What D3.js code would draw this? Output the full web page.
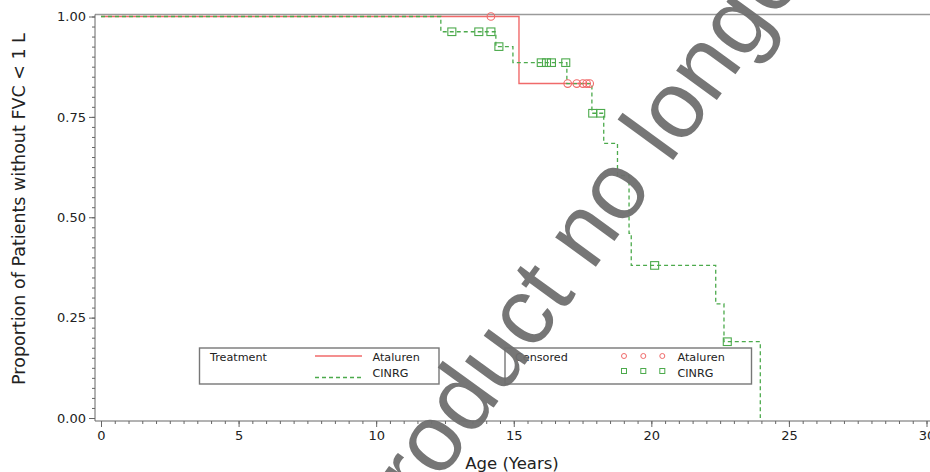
<!DOCTYPE html>
<html>
<head>
<meta charset="utf-8">
<script src="https://cdn.jsdelivr.net/npm/d3@7"></script>
<style>
  html, body { margin: 0; padding: 0; background: #fff; }
  svg { display: block; font-family: "DejaVu Sans", Verdana, sans-serif; }
</style>
</head>
<body>
<svg id="chart" width="930" height="472"></svg>
<script>
// Kaplan-Meier estimates: time to FVC < 1 L by age
const ataTimes = [0, 15.19, 17.76];
const ataSurv = [1, 0.833, 0.833];
const ataCensorTimes = [14.17, 16.96, 17.29, 17.51, 17.65, 17.76];
const ataCensorSurv = [1, 0.833, 0.833, 0.833, 0.833, 0.833];

const cinrgTimes = [0, 12.35, 14.35, 14.97, 16.93, 17.84, 18.27, 18.77, 19.19, 19.27, 22.34, 22.64, 23.96];
const cinrgSurv = [1, 0.962, 0.925, 0.885, 0.833, 0.759, 0.684, 0.604, 0.46, 0.38, 0.284, 0.19, 0];
const cinrgCensorTimes = [12.75, 13.73, 14.17, 14.46, 16.0, 16.19, 16.37, 16.89, 17.87, 18.16, 20.12, 22.76];
const cinrgCensorSurv = [0.962, 0.962, 0.962, 0.925, 0.885, 0.885, 0.885, 0.885, 0.759, 0.759, 0.38, 0.19];

const xTicks = [0, 5, 10, 15, 20, 25, 30];
const yTicks = [0, 0.25, 0.5, 0.75, 1];
const seriesNames = ["Ataluren", "CINRG"];

const RED = "#f06a6a";
const GREEN = "#4caa4c";
const DASH = "4,3";
const FONT = "'DejaVu Sans', Verdana, sans-serif";

const svg = d3.select("#chart");
const x = d3.scaleLinear().domain([0, 30]).range([101, 926.5]);
const y = d3.scaleLinear().domain([0, 1]).range([418, 16.5]);
const axisX = 95;     // y axis line position
const axisY = 421;    // x axis line position

// frame top
svg.append("line")
  .attr("x1", axisX).attr("x2", 930).attr("y1", 14.5).attr("y2", 14.5)
  .attr("stroke", "#9a9a9a").attr("stroke-width", 1.6);

// y axis: major + minor ticks
const yMinor = d3.range(0, 1.0001, 0.025);
svg.append("g").attr("transform", `translate(${axisX},0)`)
  .call(d3.axisLeft(y).tickValues(yMinor).tickSize(3).tickFormat(""))
  .call(g => g.select(".domain").remove())
  .selectAll("line").attr("stroke", "#666");
const yAxisG = svg.append("g").attr("transform", `translate(${axisX},0)`)
  .call(d3.axisLeft(y).tickValues(yTicks).tickSize(6).tickSizeOuter(0).tickPadding(3).tickFormat(d3.format(".2f")));
yAxisG.select(".domain").attr("stroke", "#666").attr("d", `M0,14.5V${axisY}`);
yAxisG.selectAll("line").attr("stroke", "#666");
yAxisG.selectAll("text").attr("font-size", 13).attr("fill", "#222").attr("font-family", FONT);

// x axis: major + minor ticks
const xMinor = d3.range(0, 30.001, 0.5);
svg.append("g").attr("transform", `translate(0,${axisY})`)
  .call(d3.axisBottom(x).tickValues(xMinor).tickSize(3).tickFormat(""))
  .call(g => g.select(".domain").remove())
  .selectAll("line").attr("stroke", "#666");
const xAxisG = svg.append("g").attr("transform", `translate(0,${axisY})`)
  .call(d3.axisBottom(x).tickValues(xTicks).tickSize(6).tickSizeOuter(0).tickPadding(4).tickFormat(d3.format("d")));
xAxisG.select(".domain").attr("stroke", "#666").attr("d", `M${axisX},0H930`);
xAxisG.selectAll("line").attr("stroke", "#666");
xAxisG.selectAll("text").attr("font-size", 13).attr("fill", "#222").attr("font-family", FONT);

// axis titles
svg.append("text")
  .attr("x", 512).attr("y", 469).attr("text-anchor", "middle")
  .attr("font-size", 16.5).attr("fill", "#222").text("Age (Years)");
svg.append("text")
  .attr("transform", "translate(25,209) rotate(-90)").attr("text-anchor", "middle")
  .attr("font-size", 17.5).attr("fill", "#222").text("Proportion of Patients without FVC < 1 L");

// step curves
const step = d3.line().x(d => x(d[0])).y(d => y(d[1])).curve(d3.curveStepAfter);
svg.append("path")
  .datum(ataTimes.map((t, i) => [t, ataSurv[i]]))
  .attr("d", step).attr("fill", "none").attr("stroke", RED).attr("stroke-width", 1.4);
svg.append("path")
  .datum(cinrgTimes.map((t, i) => [t, cinrgSurv[i]]))
  .attr("d", step).attr("fill", "none").attr("stroke", GREEN).attr("stroke-width", 1.3)
  .attr("stroke-dasharray", DASH);

// censor markers
svg.append("g").selectAll("circle")
  .data(ataCensorTimes.map((t, i) => [t, ataCensorSurv[i]]))
  .join("circle")
  .attr("cx", d => x(d[0])).attr("cy", d => y(d[1])).attr("r", 3.8)
  .attr("fill", "none").attr("stroke", RED).attr("stroke-width", 1.1);
svg.append("g").selectAll("rect")
  .data(cinrgCensorTimes.map((t, i) => [t, cinrgCensorSurv[i]]))
  .join("rect")
  .attr("x", d => x(d[0]) - 4).attr("y", d => y(d[1]) - 3.8)
  .attr("width", 8).attr("height", 7.6)
  .attr("fill", "none").attr("stroke", GREEN).attr("stroke-width", 1.1);

// legends
function legendBox(x0, y0, w, h) {
  svg.append("rect").attr("x", x0).attr("y", y0).attr("width", w).attr("height", h)
    .attr("fill", "#fff").attr("stroke", "#777").attr("stroke-width", 1.4);
}
function legendText(x0, y0, s) {
  svg.append("text").attr("x", x0).attr("y", y0).attr("font-size", 11.2)
    .attr("fill", "#222").text(s);
}
legendBox(199.5, 348, 239.5, 36);
legendText(210, 361, "Treatment");
svg.append("line").attr("x1", 315).attr("x2", 362).attr("y1", 356).attr("y2", 356)
  .attr("stroke", RED).attr("stroke-width", 1.4);
svg.append("line").attr("x1", 315).attr("x2", 362).attr("y1", 377.5).attr("y2", 377.5)
  .attr("stroke", GREEN).attr("stroke-width", 1.3).attr("stroke-dasharray", DASH);
legendText(372.5, 361, seriesNames[0]);
legendText(372.5, 377, seriesNames[1]);

legendBox(505, 348, 246.5, 36);
legendText(515, 361, "Censored");
const symX = [624, 643.3, 662.3];
svg.append("g").selectAll("circle").data(symX).join("circle")
  .attr("cx", d => d).attr("cy", 356).attr("r", 2.5)
  .attr("fill", "none").attr("stroke", RED).attr("stroke-width", 1);
svg.append("g").selectAll("rect").data(symX).join("rect")
  .attr("x", d => d - 2.5).attr("y", 368.5).attr("width", 5).attr("height", 5)
  .attr("fill", "none").attr("stroke", GREEN).attr("stroke-width", 1);
legendText(677.5, 361, seriesNames[0]);
legendText(677.5, 377, seriesNames[1]);

// status stamp across the page
const stamp = svg.append("text")
  .attr("font-size", 95).attr("fill", "#6f6f6f").attr("fill-opacity", 0.95)
  .attr("font-family", "'Liberation Sans', Arial, sans-serif")
  .text("Medicinal product no longer authorised");
const full = stamp.text();
const offset = stamp.node().getSubStringLength(0, full.indexOf("no "));
stamp.attr("x", -offset).attr("transform", "translate(592,272) rotate(-54)");
</script>
</body>
</html>
